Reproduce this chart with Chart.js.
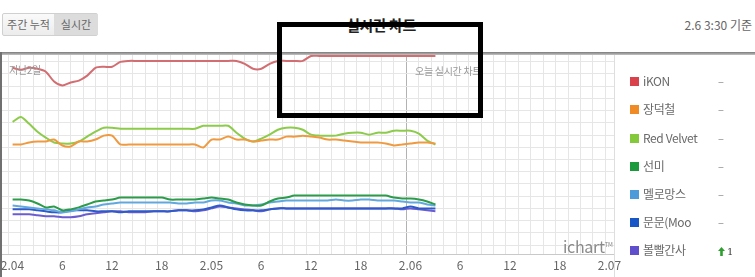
<!DOCTYPE html>
<html>
<head>
<meta charset="utf-8">
<script src="https://cdn.jsdelivr.net/npm/chart.js@4/dist/chart.umd.min.js"></script>
<style>
    body { margin: 0; width: 755px; height: 277px; overflow: hidden; background: #fff; position: relative;
        font-family: "Noto Sans CJK KR", "Noto Sans", sans-serif; color: #666; }
    .abs { position: absolute; }
    #tabs { left: 2px; top: 13px; width: 96px; height: 23px; border: 1px solid #d0d0d0; border-radius: 2px;
        box-sizing: border-box; background: linear-gradient(#fafafa, #ececec); font-size: 11px; }
    #tabs span { position: absolute; top: 0; height: 21px; line-height: 21px; text-align: center; color: #666; }
    #tabWeek { left: 0; width: 51px; }
    #tabLive { left: 51px; width: 44px; background: #dcdcdc; }
    #title { left: 281px; width: 200px; top: 14px; text-align: center; font-size: 15px; font-weight: bold; color: #222; letter-spacing: -0.5px; }
    #asOf { right: 3px; top: 16px; font-size: 12px; color: #666; }
    #topBar { left: 0; top: 52px; width: 755px; height: 3px; background: linear-gradient(#7a7a7a, #c4c4c4); }
    #leftBorder { left: 0; top: 52px; width: 2px; height: 225px; background: #707070; }
    #panelBorder { left: 614px; top: 55px; width: 1px; height: 222px; background: #dedede; }
    #chartCanvas { left: -30px; top: 55px; }
    .note { font-size: 10px; color: #999; letter-spacing: -0.3px; }
    #notePast { left: 9px; top: 62px; }
    #noteToday { left: 415px; top: 63px; }
    #brand { left: 563px; top: 234px; font-size: 16px; color: #8a8a8a; letter-spacing: -0.3px; }
    #brand sup { font-size: 6px; }
    #legend { left: 630px; top: 0; }
    .item { position: absolute; left: 0; width: 110px; height: 16px; font-size: 12px; letter-spacing: -0.4px; white-space: nowrap; }
    .sw { position: absolute; left: 0; top: 4px; width: 9px; height: 9px; }
    .name { position: absolute; left: 13px; top: 0; line-height: 16px; color: #6a6a6a; }
    .chg { position: absolute; left: 88px; top: 0; line-height: 16px; color: #888; font-size: 11px; }
    #mark { left: 277px; top: 22px; width: 206px; height: 96px; border: 5px solid #000; box-sizing: border-box; z-index: 10; }
</style>
</head>
<body>
<div id="tabs" class="abs"><span id="tabWeek">주간 누적</span><span id="tabLive">실시간</span></div>
<div id="title" class="abs">실시간 차트</div>
<div id="asOf" class="abs">2.6 3:30 기준</div>
<canvas id="chartCanvas" class="abs" width="664" height="222"></canvas>
<div id="topBar" class="abs"></div>
<div id="leftBorder" class="abs"></div>
<div id="panelBorder" class="abs"></div>
<div id="notePast" class="abs note">지난2일</div>
<div id="noteToday" class="abs note">오늘 실시간 차트</div>
<div id="brand" class="abs">ichart<sup>TM</sup></div>
<div id="legend" class="abs"></div>
<div id="mark" class="abs"></div>

<script>
// hours since 2.04 00:00, sampled every hour at :30
const hours = [0.5, 1.5, 2.5, 3.5, 4.5, 5.5, 6.5, 7.5, 8.5, 9.5, 10.5, 11.5, 12.5, 13.5, 14.5, 15.5, 16.5, 17.5,
    18.5, 19.5, 20.5, 21.5, 22.5, 23.5, 24.5, 25.5, 26.5, 27.5, 28.5, 29.5, 30.5, 31.5, 32.5, 33.5, 34.5, 35.5,
    36.5, 37.5, 38.5, 39.5, 40.5, 41.5, 42.5, 43.5, 44.5, 45.5, 46.5, 47.5, 48.5, 49.5, 50.5, 51.5];

const xTickLabels = ["2.04", "6", "12", "18", "2.05", "6", "12", "18", "2.06", "6", "12", "18", "2.07"];

const artists = ["iKON", "장덕철", "Red Velvet", "선미", "멜로망스", "문문(Moo", "볼빨간사"];
const rankChange = ["-", "-", "-", "-", "-", "-", "up1"];

const ikon = [190, 188, 190, 189, 186, 176, 172, 175, 177, 182, 190, 191, 191, 196, 197, 197, 197, 197, 197, 197,
    197, 197, 197, 197, 197, 197, 197, 197, 194, 189, 189, 194, 197, 197, 197, 197, 202, 202, 202, 202,
    202, 202, 202, 202, 202, 202, 202, 202, 202, 202, 202, 202];
const jangDeokCheol = [112, 112, 114, 115, 115, 117, 111, 110, 115, 115, 117, 121, 121, 112, 112, 112, 112, 112, 112, 112,
    112, 112, 112, 109, 117, 117, 120, 117, 117, 115, 116, 117, 117, 120, 120, 121, 120, 119, 117, 117,
    116, 115, 114, 114, 114, 113, 111, 112, 113, 114, 114, 113];
const redVelvet = [135, 140, 133, 125, 119, 114, 113, 113, 115, 120, 125, 129, 129, 128, 128, 128, 128, 128, 128, 128,
    128, 128, 128, 131, 131, 131, 131, 124, 118, 115, 118, 122, 127, 129, 129, 127, 122, 121, 121, 121,
    123, 124, 124, 122, 124, 124, 126, 126, 126, 123, 116, 112];
const sunmi = [56, 56, 55, 52, 48, 49, 45, 46, 48, 51, 54, 55, 56, 58, 58, 58, 58, 58, 58, 56,
    56, 56, 56, 57, 58, 57, 56, 53, 51, 50, 50, 54, 57, 58, 60, 60, 60, 60, 60, 60,
    60, 60, 60, 60, 60, 60, 58, 57, 57, 56, 54, 51];
const melomance = [50, 49, 48, 47, 46, 45, 43, 44, 46, 48, 49, 51, 52, 53, 53, 53, 53, 53, 53, 53,
    52, 52, 53, 53, 55, 55, 53, 52, 50, 50, 51, 53, 54, 55, 55, 55, 55, 55, 55, 56,
    55, 55, 56, 56, 55, 55, 55, 54, 53, 53, 51, 50];
const moonmoon = [46, 46, 46, 45, 44, 43, 43, 45, 45, 45, 44, 44, 44, 43, 44, 44, 44, 44, 44, 44,
    45, 45, 45, 46, 48, 50, 48, 46, 45, 45, 45, 46, 47, 47, 47, 47, 47, 47, 47, 47,
    47, 47, 47, 47, 47, 47, 47, 47, 49, 47, 47, 47];
const bol4 = [41, 41, 41, 40, 39, 39, 38, 38, 39, 41, 42, 43, 44, 44, 43, 43, 43, 44, 44, 44,
    45, 45, 44, 45, 47, 49, 48, 47, 46, 45, 44, 46, 47, 47, 47, 47, 47, 47, 47, 47,
    47, 47, 47, 47, 47, 47, 47, 46, 47, 46, 45, 44];

const seriesList = [ikon, jangDeokCheol, redVelvet, sunmi, melomance, moonmoon, bol4];

// styles
const swatchColors = ["#d9424a", "#f08a24", "#84c93a", "#1a9a3c", "#4d9bd9", "#1656c6", "#5f4fcc"];
const lineColors = ["#d26d72", "#ef9a40", "#8dcb4b", "#2c9c4a", "#62a8de", "#2f5bc9", "#6b5dcf"];
const legendTops = [73, 101, 130, 158, 186, 214, 242];

const Y_GRID_START = 9.7;
const Y_GRID_STEP = 12.43;

Chart.defaults.font.family = '"Noto Sans CJK KR", "Noto Sans", sans-serif';
Chart.defaults.font.size = 12;
Chart.defaults.color = "#666";

function buildLegend() {
    const box = document.getElementById("legend");
    artists.forEach((name, i) => {
        const item = document.createElement("div");
        item.className = "item";
        item.style.top = legendTops[i] + "px";
        let chg = `<span class="chg">–</span>`;
        if (rankChange[i] === "up1") {
            chg = `<span class="chg" style="color:#2a9a2a"><svg width="7" height="9" viewBox="0 0 7 9" style="vertical-align:-1px">
                <path d="M3.5 0 L7 4 L4.8 4 L4.8 9 L2.2 9 L2.2 4 L0 4 Z" fill="#2e9e2e"/></svg><span style="font-family:'DejaVu Serif',serif;font-size:10px;color:#3a3a3a;margin-left:2px">1</span></span>`;
        }
        item.innerHTML = `<span class="sw" style="background:${swatchColors[i]}"></span><span class="name">${name}</span>${chg}`;
        box.append(item);
    });
}

function drawChart() {
    const datasets = seriesList.map((series, i) => ({
        label: artists[i],
        data: hours.map((h, k) => ({ x: h, y: series[k] })),
        borderColor: lineColors[i],
        borderWidth: 2,
        pointRadius: 0,
        tension: 0.25,
        fill: false,
    }));

    new Chart(document.getElementById("chartCanvas"), {
        type: "line",
        data: { datasets: datasets },
        options: {
            responsive: false,
            animation: false,
            layout: { padding: { left: 32, right: 20, top: 0, bottom: 0 } },
            plugins: { legend: { display: false }, tooltip: { enabled: false } },
            scales: {
                x: {
                    type: "linear",
                    min: -0.78,
                    max: 73.04,
                    afterBuildTicks: (scale) => {
                        const ticks = [];
                        for (let v = 0; v <= 72; v += 1.5) ticks.push({ value: v });
                        scale.ticks = ticks;
                    },
                    ticks: {
                        autoSkip: false,
                        maxRotation: 0,
                        minRotation: 0,
                        padding: 4,
                        labelOffset: 4,
                        color: "#666",
                        font: { size: 12 },
                        callback: (value) => (value % 6 === 0 ? xTickLabels[value / 6] : ""),
                    },
                    grid: {
                        drawTicks: false,
                        color: (ctx) => (ctx.tick && ctx.tick.value === 48 ? "#b2b2b2" : "#e6e6e6"),
                    },
                    border: { color: "#c9c9c9", width: 1 },
                },
                y: {
                    min: 0,
                    max: 203,
                    afterBuildTicks: (scale) => {
                        const ticks = [];
                        for (let v = Y_GRID_START; v < 203; v += Y_GRID_STEP) ticks.push({ value: v });
                        scale.ticks = ticks;
                    },
                    ticks: { display: false },
                    grid: { drawTicks: false, color: "#e6e6e6" },
                    border: { display: false },
                },
            },
        },
    });
}

buildLegend();
drawChart();
</script>
</body>
</html>
